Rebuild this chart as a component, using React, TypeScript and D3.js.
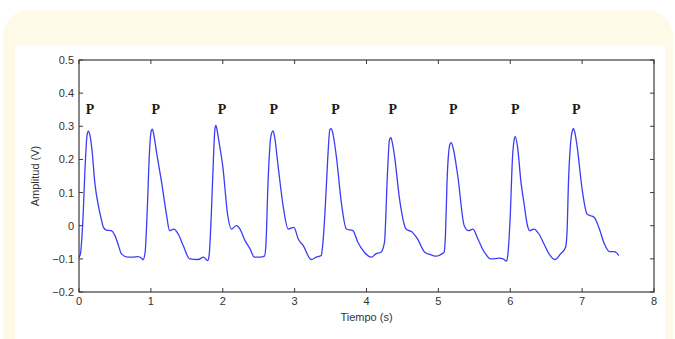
import { useEffect, useRef } from "react";
import * as d3 from "d3";

// signal samples
const tiempo = [
  0.0, 0.02, 0.05, 0.09, 0.11, 0.13, 0.15, 0.18, 0.22, 0.27, 0.31, 0.34, 0.38, 0.45, 0.5, 0.55, 0.59, 0.68, 0.75,
  0.82, 0.87, 0.89, 0.92, 0.95, 0.98, 1.0, 1.02, 1.04, 1.08, 1.15, 1.22, 1.26, 1.32, 1.38, 1.45, 1.54, 1.66, 1.73,
  1.79, 1.81, 1.84, 1.87, 1.89, 1.905, 1.92, 1.95, 2.0, 2.07, 2.12, 2.19, 2.24, 2.31, 2.38, 2.44, 2.52, 2.58, 2.6,
  2.63, 2.67, 2.7, 2.72, 2.77, 2.84, 2.91, 2.99, 3.05, 3.12, 3.23, 3.3, 3.37, 3.39, 3.42, 3.46, 3.49, 3.51, 3.53,
  3.58, 3.65, 3.72, 3.81, 3.88, 3.97, 4.07, 4.13, 4.2, 4.25, 4.29, 4.32, 4.34, 4.36, 4.39, 4.46, 4.55, 4.64, 4.71,
  4.81, 4.9, 4.97, 5.05, 5.08, 5.1, 5.12, 5.16, 5.18, 5.21, 5.27, 5.36, 5.42, 5.48, 5.55, 5.64, 5.73, 5.85, 5.9,
  5.95, 5.97, 6.0, 6.03, 6.06, 6.07, 6.1, 6.15, 6.19, 6.24, 6.27, 6.33, 6.4, 6.47, 6.54, 6.62, 6.7, 6.77, 6.79,
  6.81, 6.84, 6.87, 6.88, 6.9, 6.93, 7.0, 7.07, 7.12, 7.17, 7.24, 7.31, 7.38, 7.44, 7.48, 7.51,
];
const amplitud = [
  -0.095, -0.085, 0.0, 0.2, 0.27, 0.285, 0.275, 0.23, 0.13, 0.06, 0.02, -0.005, -0.013, -0.015, -0.03, -0.06,
  -0.085, -0.095, -0.095, -0.093, -0.098, -0.103, -0.08, 0.05, 0.22, 0.28, 0.291, 0.275, 0.22, 0.13, 0.03, -0.015,
  -0.01, -0.025, -0.06, -0.1, -0.102, -0.095, -0.105, -0.09, 0.03, 0.2, 0.29, 0.303, 0.29, 0.25, 0.18, 0.03, -0.01,
  0.0, -0.01, -0.045, -0.07, -0.095, -0.095, -0.092, -0.06, 0.13, 0.27, 0.286, 0.27, 0.18, 0.06, -0.01, -0.005,
  -0.04, -0.06, -0.102, -0.095, -0.09, -0.06, 0.03, 0.2, 0.29, 0.293, 0.28, 0.21, 0.07, -0.01, -0.015, -0.05,
  -0.08, -0.095, -0.085, -0.08, -0.05, 0.15, 0.26, 0.266, 0.25, 0.21, 0.08, -0.01, -0.02, -0.04, -0.08, -0.088,
  -0.092, -0.085, -0.08, -0.02, 0.13, 0.245, 0.251, 0.23, 0.15, 0.0, -0.015, -0.01, -0.04, -0.08, -0.1, -0.098,
  -0.1, -0.107, -0.08, 0.03, 0.2, 0.265, 0.269, 0.24, 0.13, 0.07, 0.0, -0.015, -0.01, -0.025, -0.055, -0.085,
  -0.102, -0.085, -0.065, -0.02, 0.13, 0.25, 0.29, 0.293, 0.28, 0.24, 0.11, 0.035, 0.03, 0.025, -0.01, -0.055,
  -0.078, -0.078, -0.082, -0.09,
];

// "P" wave annotations
const pTimes = [0.153, 1.069, 1.99, 2.71, 3.57, 4.365, 5.208, 6.07, 6.92];
const pLevel = 0.338;

const xTicks = [0, 1, 2, 3, 4, 5, 6, 7, 8];
const yTicks = [-0.2, -0.1, 0, 0.1, 0.2, 0.3, 0.4, 0.5];

export default function App() {
  const svgRef = useRef<SVGSVGElement>(null);

  useEffect(() => {
    const width = 675;
    const height = 339;
    const left = 79;
    const right = 654;
    const top = 60;
    const bottom = 292;
    const tick = 4;

    const svg = d3.select(svgRef.current);
    svg.selectAll("*").remove();

    // cream card + white inner sheet
    svg
      .append("rect")
      .attr("x", 3)
      .attr("y", 10)
      .attr("width", 670)
      .attr("height", 360)
      .attr("rx", 26)
      .attr("fill", "#fffae8");
    svg.append("rect").attr("x", 15).attr("y", 45).attr("width", 650).attr("height", 300).attr("fill", "#ffffff");

    const x = d3.scaleLinear().domain([0, 8]).range([left, right]);
    const y = d3.scaleLinear().domain([-0.2, 0.5]).range([bottom, top]);

    const font = "'Liberation Sans', Arial, sans-serif";
    const axisColor = "#3a3a3a";

    // signal
    const pts = tiempo.map((t, i) => [t, amplitud[i]] as [number, number]);
    svg
      .append("path")
      .attr(
        "d",
        d3
          .line<[number, number]>()
          .x((d) => x(d[0]))
          .y((d) => y(d[1]))
          .curve(d3.curveMonotoneX)(pts)
      )
      .attr("fill", "none")
      .attr("stroke", "#3c3cf6")
      .attr("stroke-width", 1.3);

    // frame
    svg
      .append("rect")
      .attr("x", left)
      .attr("y", top)
      .attr("width", right - left)
      .attr("height", bottom - top)
      .attr("fill", "none")
      .attr("stroke", axisColor)
      .attr("stroke-width", 1.2);

    const g = svg.append("g").attr("stroke", axisColor).attr("stroke-width", 1);
    xTicks.forEach((v) => {
      g.append("line").attr("x1", x(v)).attr("x2", x(v)).attr("y1", bottom).attr("y2", bottom - tick);
      g.append("line").attr("x1", x(v)).attr("x2", x(v)).attr("y1", top).attr("y2", top + tick);
    });
    yTicks.forEach((v) => {
      g.append("line").attr("x1", left).attr("x2", left + tick).attr("y1", y(v)).attr("y2", y(v));
      g.append("line").attr("x1", right).attr("x2", right - tick).attr("y1", y(v)).attr("y2", y(v));
    });

    svg
      .append("g")
      .selectAll("text")
      .data(xTicks)
      .join("text")
      .attr("x", (d) => x(d))
      .attr("y", bottom + 13)
      .attr("text-anchor", "middle")
      .attr("font-family", font)
      .attr("font-size", 11)
      .attr("fill", "#333")
      .text((d) => String(d));

    svg
      .append("g")
      .selectAll("text")
      .data(yTicks)
      .join("text")
      .attr("x", left - 5)
      .attr("y", (d) => y(d) + 4)
      .attr("text-anchor", "end")
      .attr("font-family", font)
      .attr("font-size", 11)
      .attr("fill", "#333")
      .text((d) => d3.format("")(+d.toFixed(1)));

    svg
      .append("text")
      .attr("x", (left + right) / 2)
      .attr("y", bottom + 29)
      .attr("text-anchor", "middle")
      .attr("font-family", font)
      .attr("font-size", 11)
      .attr("fill", "#333")
      .text("Tiempo (s)");

    svg
      .append("text")
      .attr("transform", `translate(39, ${(top + bottom) / 2}) rotate(-90)`)
      .attr("text-anchor", "middle")
      .attr("font-family", font)
      .attr("font-size", 11)
      .attr("fill", "#333")
      .text("Amplitud (V)");

    svg
      .append("g")
      .selectAll("text")
      .data(pTimes)
      .join("text")
      .attr("x", (d) => x(d))
      .attr("y", y(pLevel))
      .attr("text-anchor", "middle")
      .attr("font-family", "'Liberation Serif', 'DejaVu Serif', serif")
      .attr("font-weight", "bold")
      .attr("font-size", 14)
      .attr("fill", "#1e1a14")
      .text("P");

    svg.attr("width", width).attr("height", height);
  }, []);

  return (
    <svg
      ref={svgRef}
      width={675}
      height={339}
      style={{ position: "absolute", left: 0, top: 0, display: "block", background: "#fff" }}
    />
  );
}
